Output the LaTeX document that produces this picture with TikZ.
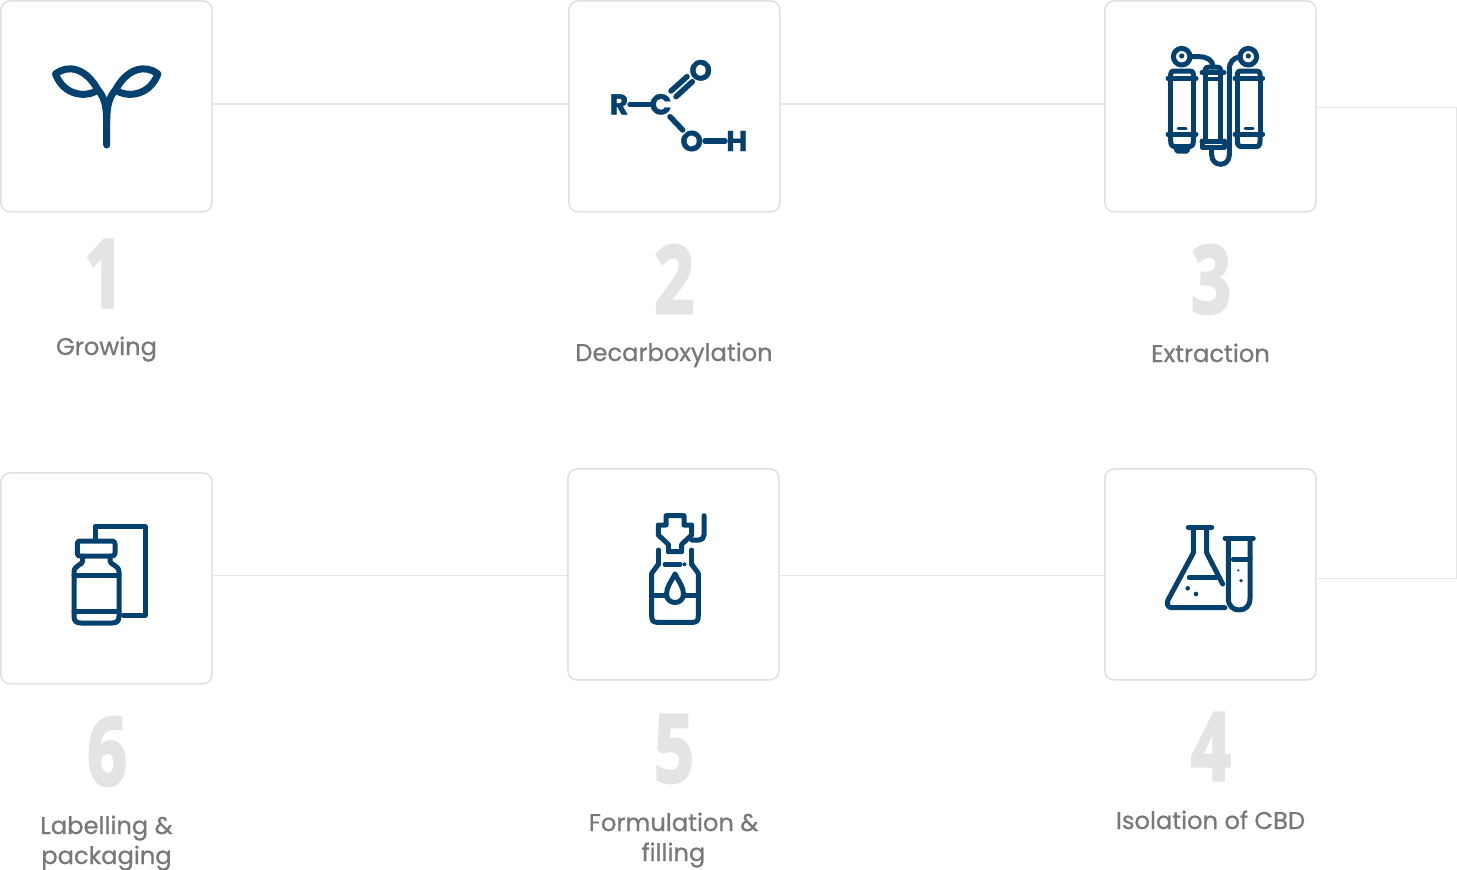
\documentclass[tikz,border=0pt]{standalone}
\usepackage{fontspec}
\setmainfont{Poppins}[FakeBold=0.7]
\newfontfamily\numfont{Open Sans}[BoldFont={Open Sans Bold},BoldFeatures={FakeBold=3.2}]
\newfontfamily\chemfont{Poppins}[BoldFont={Poppins Bold},BoldFeatures={FakeBold=1.5}]
\definecolor{ink}{HTML}{05416F}
\definecolor{edge}{HTML}{E0E0E2}
\definecolor{conn}{HTML}{E6E6E8}
\definecolor{numc}{HTML}{E4E4E6}
\definecolor{lab}{HTML}{787878}
\tikzset{
 x=1pt,y=-1pt,
 stepbox/.style={draw=edge,line width=1.5pt,rounded corners=9pt,minimum size=211pt,inner sep=0pt,anchor=north west,fill=white},
 conline/.style={draw=conn,line width=1.5pt},
 conthin/.style={draw=conn,line width=1pt},
 numtext/.style={text=numc,font=\fontsize{94}{94}\selectfont\numfont\bfseries,xscale=.74,anchor=base,inner sep=0pt},
 labtext/.style={text=lab,font=\fontsize{24.2}{30}\selectfont,align=center,anchor=base,inner sep=0pt},
 chem/.style={text=ink,font=\fontsize{28.5}{28.5}\selectfont\chemfont\bfseries,inner sep=0pt},
 icon/.style={draw=ink,line width=5pt,line cap=round,line join=round},
 bond/.style={draw=ink,line width=5.5pt,line cap=round},
}
\begin{document}
\begin{tikzpicture}
\useasboundingbox (0,0) rectangle (1457,870);
\node[stepbox] (b1) at (0.2,0.2) {};
\node[stepbox] (b2) at (568.2,0.2) {};
\node[stepbox] (b3) at (1104.2,0.2) {};
\node[stepbox] (b6) at (0.2,472.2) {};
\node[stepbox] (b5) at (567.2,468.2) {};
\node[stepbox] (b4) at (1104.2,468.2) {};
\coordinate (ca) at (1456,107);
\coordinate (cb) at (1456,578);
\draw[conline] (b1.east |- 0,104) -- (b2.west |- 0,104);
\draw[conline] (b2.east |- 0,104) -- (b3.west |- 0,104);
\draw[conthin] (b3.east |- ca) -- (ca) -- (cb) -- (b4.east |- cb);
\draw[conthin] (b4.west |- 0,575) -- (b5.east |- 0,575);
\draw[conthin] (b5.west |- 0,575) -- (b6.east |- 0,575);
% numbers
\node[numtext] (n1) at (104,307) {1};
\node[numtext] (n2) at (674,313) {2};
\node[numtext] (n3) at (1211,313) {3};
\node[numtext] (n4) at (1211,780) {4};
\node[numtext] (n5) at (674,782) {5};
\node[numtext] (n6) at (107,785) {6};
% labels
\node[labtext] (l1) at (106.5,355) {Growing};
\node[labtext] (l2) at (674,361) {Decarboxylation};
\node[labtext] (l3) at (1210.5,362) {Extraction};
\node[labtext] (l4) at (1210.5,829) {Isolation of CBD};
\node[labtext] (l5) at (673.5,861) {Formulation \&\\filling};
\node[labtext] (l6) at (106.5,864) {Labelling \&\\packaging};
% sprout
\begin{scope}[draw=ink,line width=7pt,line cap=round,line join=round]
\draw[ink] (106.7,145) -- (106.7,122) .. controls (106.7,105) and (104,97) .. (98,90)
  .. controls (86,68) and (68,64) .. (55.5,74) .. controls (64,96) and (86,98) .. (98,90);
\draw[ink] (106.7,122) .. controls (106.7,105) and (109.4,97) .. (115.4,90)
  .. controls (127.4,68) and (145.4,64) .. (157.9,74) .. controls (149.4,96) and (127.4,98) .. (115.4,90);
\end{scope}
% chem
\node[chem] (r) at (619,104.3) {R};
\node[chem] (c) at (660.7,104.3) {C};
\node[chem] (o1) at (700.7,70.3) {O};
\node[chem] (o2) at (691.7,141) {O};
\node[chem] (h) at (736.7,141) {H};
\draw[bond] (630,104.3) -- (650,104.3);
\draw[bond] (671,91) -- (687,76.7);
\draw[bond] (676,96.7) -- (692.3,81.7);
\draw[bond] (670,116.7) -- (682.7,130);
\draw[bond] (705,141) -- (725,141);
% extraction
\begin{scope}
\draw[icon] (1181.7,56.7) circle (8.3);
\fill[ink] (1181.7,56) circle (2.6);
\draw[icon] (1248.3,56.7) circle (8.3);
\fill[ink] (1248.3,56) circle (2.6);
% left cylinder
\draw[icon] (1170.7,78.3) -- (1170.7,74) .. controls (1170.7,72) and (1172,71) .. (1174,71) -- (1190,71) .. controls (1192,71) and (1193.3,72) .. (1193.3,74) -- (1193.3,78.3);
\draw[icon] (1168,78.3) -- (1196,78.3);
\draw[icon] (1170.7,78.3) -- (1170.7,134.3) (1193.3,78.3) -- (1193.3,134.3);
\draw[icon] (1168,134.3) -- (1196,134.3);
\draw[icon] (1170.7,134.3) -- (1170.7,141) .. controls (1170.7,145) and (1172,146.7) .. (1176,146.7) -- (1188,146.7) .. controls (1192,146.7) and (1193.3,145) .. (1193.3,141) -- (1193.3,134.3);
\draw[icon] (1176,147) -- (1177,151) -- (1187,151) -- (1188,147);
\draw[icon,line width=3pt] (1178,128.3) -- (1186,128.3);
% right cylinder
\draw[icon] (1237.3,78.3) -- (1237.3,74) .. controls (1237.3,72) and (1238.6,71) .. (1240.6,71) -- (1256.6,71) .. controls (1258.6,71) and (1260,72) .. (1260,74) -- (1260,78.3);
\draw[icon] (1235,78.3) -- (1262.7,78.3);
\draw[icon] (1237.3,78.3) -- (1237.3,134.3) (1260,78.3) -- (1260,134.3);
\draw[icon] (1235,134.3) -- (1262.7,134.3);
\draw[icon] (1237.3,134.3) -- (1237.3,141) .. controls (1237.3,145) and (1238.6,146.7) .. (1242.6,146.7) -- (1255,146.7) .. controls (1259,146.7) and (1260,145) .. (1260,141) -- (1260,134.3);
\draw[icon,line width=3pt] (1245,128.3) -- (1253,128.3);
% middle cylinder
\draw[icon] (1205,72) -- (1205,70) .. controls (1205,68) and (1207,67) .. (1209,67) -- (1217,67) .. controls (1219,67) and (1220.7,68) .. (1220.7,70) -- (1220.7,72);
\draw[icon] (1202,72.5) -- (1224,72.5);
\draw[icon,line width=3.5pt] (1205,79) -- (1220.7,79);
\draw[icon] (1205,72) -- (1205,141) (1220.7,72) -- (1220.7,141);
\draw[icon] (1202,141) -- (1202,147.7) -- (1224,147.7) -- (1224,141);
\draw[icon] (1202,141) -- (1224,141);
% pipes
\draw[icon] (1190,56.7) -- (1199,56.7) .. controls (1207,56.7) and (1213,60) .. (1213,67);
\draw[icon] (1240,56.7) .. controls (1233,58) and (1229.3,62) .. (1229.3,70) -- (1229.3,155) .. controls (1229.3,161) and (1225,164.3) .. (1220.5,164.3) .. controls (1216,164.3) and (1211.7,161) .. (1211.7,155) -- (1211.7,148);
\end{scope}
% flask
\draw[icon] (1188.3,527.3) -- (1211.7,527.3);
\draw[icon] (1193.3,527.3) -- (1193.3,553) -- (1168,600) .. controls (1166,604) and (1168,607.7) .. (1172,607.7) -- (1225,607.7);
\draw[icon] (1206.7,527.3) -- (1206.7,553) -- (1222.7,584);
\draw[icon] (1189.3,577.3) -- (1216.7,577.3);
\fill[ink] (1187.7,588.3) circle (2.3) (1196,594) circle (2.3);
\draw[icon] (1225,538.3) -- (1253.3,538.3);
\draw[icon] (1228.3,538.3) -- (1228.3,598.3) .. controls (1228.3,606) and (1233,610) .. (1239.15,610) .. controls (1245.3,610) and (1250,606) .. (1250,598.3) -- (1250,538.3);
\draw[icon] (1233.3,559.3) -- (1250,559.3);
\fill[ink] (1238.3,570.3) circle (1.2) (1241,580.7) circle (1.8);
% bottle with dropper
\draw[icon] (666,515.7) -- (684,515.7) -- (684,525) -- (691.7,525) -- (691.7,535) -- (681.7,544.3) -- (681.7,551.7) -- (668.3,551.7) -- (668.3,544.3) -- (658.3,535) -- (658.3,525) -- (666,525) -- cycle;
\draw[icon] (704,515.7) -- (704,535) .. controls (704,538) and (702,540) .. (699,540) -- (691.7,540);
\draw[icon] (658.3,550) -- (658.3,564.3) (691.7,550) -- (691.7,564.3);
\draw[icon] (665,564.3) -- (680,564.3);
\fill[ink] (684.5,564.3) circle (2);
\draw[icon] (658.3,564.3) -- (651.7,573.3) -- (651.7,616) .. controls (651.7,620) and (653,622.3) .. (657,622.3) -- (693,622.3) .. controls (697,622.3) and (698.3,620) .. (698.3,616) -- (698.3,573.3) -- (691.7,564.3);
\draw[icon] (675,574) .. controls (671,582) and (666.5,587) .. (666.5,594) .. controls (666.5,599) and (670,602.5) .. (675,602.5) .. controls (680,602.5) and (683.5,599) .. (683.5,594) .. controls (683.5,587) and (679,582) .. (675,574);
\draw[icon] (651.7,595) -- (666.5,595) (683.5,595) -- (698.3,595);
% label bottle
\draw[icon] (95,538.3) -- (95,526.7) -- (145,526.7) -- (145,615) -- (123.3,615);
\draw[icon] (80,541) -- (112,541) .. controls (114,541) and (115,542) .. (115,544) -- (115,553) .. controls (115,555) and (114,556) .. (112,556) -- (80,556) .. controls (78,556) and (77.3,555) .. (77.3,553) -- (77.3,544) .. controls (77.3,542) and (78,541) .. (80,541) -- cycle;
\draw[icon] (82.7,556) -- (82.7,561) .. controls (82.7,565) and (74,565) .. (74,572) -- (74,616) .. controls (74,621) and (76,623) .. (81,623) -- (112,623) .. controls (117,623) and (119,621) .. (119,616) -- (119,572) .. controls (119,565) and (110,565) .. (110,561) -- (110,556);
\draw[icon] (74,575) -- (119,575) (74,611) -- (119,611);
\end{tikzpicture}
\end{document}
